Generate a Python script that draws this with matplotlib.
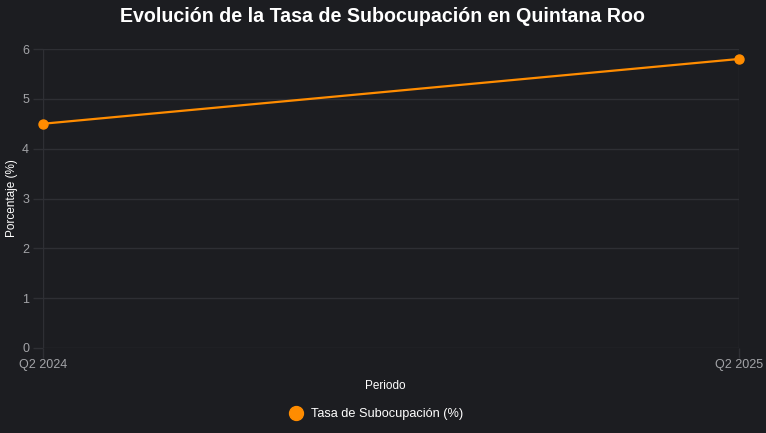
import matplotlib
matplotlib.use("Agg")
import matplotlib.pyplot as plt
from matplotlib.lines import Line2D

periods = ["Q2 2024", "Q2 2025"]
values = [4.5, 5.8]
y_ticks = [0, 1, 2, 3, 4, 5, 6]

bg = "#1c1d21"
grid_c = "#2e2f34"
orange = "#ff8c00"

plt.rcParams['font.family'] = ['Liberation Sans', 'DejaVu Sans']

fig = plt.figure(figsize=(7.66, 4.33), dpi=100, facecolor=bg)
ax = fig.add_axes([43/766, 1-348/433, (739-43)/766, (348-49)/433], facecolor=bg)

x = list(range(len(periods)))
ax.plot(x, values, color=orange, lw=1.6, marker="o", ms=6.5, zorder=3, clip_on=False)

ax.set_xlim(0, len(periods)-1)
ax.set_ylim(0, 6)
ax.set_xticks(x)
ax.set_xticklabels(periods)
ax.set_yticks(y_ticks)
ax.grid(True, color=grid_c, lw=1)
for s in ax.spines.values():
    s.set_visible(False)
ax.tick_params(axis='both', colors=grid_c, length=7, width=1, labelcolor="#a3a4a8", labelsize=9)
ax.tick_params(axis='y', pad=3)
ax.tick_params(axis='x', pad=1)

fig.text(385/766, 1-386/433, "Periodo", ha="center", va="center", color="white", fontsize=8.5)
fig.text(12/766, 1-198/433, "Porcentaje (%)", ha="center", va="center", rotation=90,
         color="white", fontsize=8.5)

fig.text(0.5, 1-17/433, "Evolución de la Tasa de Subocupación en Quintana Roo",
         ha="center", va="center", color="white", fontsize=14.1, fontweight="bold")

handle = Line2D([], [], color=orange, marker="o", ls="", ms=10)
fig.legend([handle], ["Tasa de Subocupación (%)"], loc="center", bbox_to_anchor=(373/766, 1-414/433),
           frameon=False, labelcolor="white", fontsize=9.2, handletextpad=0.2)

fig.savefig("out.png", dpi=100, facecolor=bg)
